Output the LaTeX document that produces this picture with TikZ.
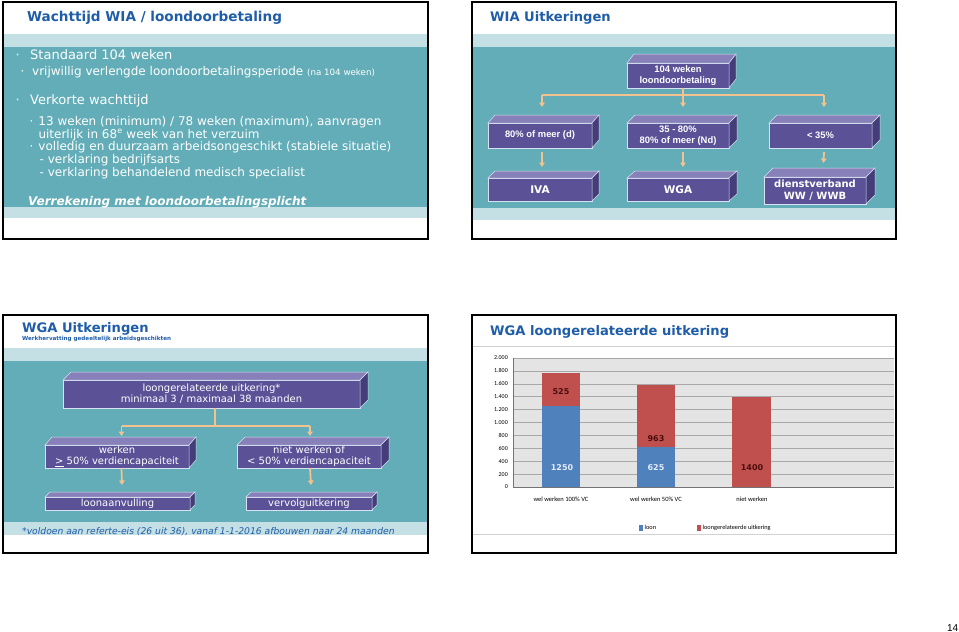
\documentclass[tikz,border=0pt]{standalone}
\usepackage{fontspec}
\setmainfont{DejaVu Sans}
\newfontfamily\arial{Liberation Sans}
\newfontfamily\calib{Carlito}
\usetikzlibrary{arrows.meta}
\definecolor{slteal}{HTML}{62ADB7}
\definecolor{slband}{HTML}{C4E0E5}
\definecolor{sltitle}{HTML}{1F5DA8}
\definecolor{bxfront}{HTML}{5A5197}
\definecolor{bxtop}{HTML}{8780B9}
\definecolor{bxside}{HTML}{453D7A}
\definecolor{bxedge}{HTML}{D6E2F0}
\definecolor{connc}{HTML}{F3C28E}
\definecolor{barblue}{HTML}{4F81BD}
\definecolor{barred}{HTML}{C0504D}
\definecolor{plotbg}{HTML}{E4E4E4}
\definecolor{gridc}{HTML}{A8A8A8}
\definecolor{darklab}{HTML}{4A0E0E}
\definecolor{lightlab}{HTML}{E4ECF6}
\newcommand\fsz[2]{\fontsize{#1}{#2}\selectfont}
% \cub[node options]{name}{x1}{y1}{x2}{y2}{dx}{dy}{text}
\newcommand\cub[9][]{%
  \pgfmathsetmacro\cw{#5-#3}\pgfmathsetmacro\ch{#6-#4}%
  \node[front, minimum width=\cw pt, minimum height=\ch pt, anchor=north west, #1] (#2) at (#3,#4) {#9};
  \filldraw[fill=bxtop, draw=bxedge, line width=0.5pt] (#2.north west) -- ++(#7,-#8) -- ([shift={(#7,-#8)}]#2.north east) -- (#2.north east) -- cycle;
  \filldraw[fill=bxside, draw=bxedge, line width=0.5pt] (#2.north east) -- ++(#7,-#8) -- ([shift={(#7,-#8)}]#2.south east) -- (#2.south east) -- cycle;
}
\begin{document}
\begin{tikzpicture}[x=1pt,y=-1pt,
  frame/.style={draw=black, line width=1.3pt},
  front/.style={draw=bxedge, fill=bxfront, line width=0.5pt, inner sep=0pt, outer sep=0pt, text=white, align=center},
  afont/.style={font=\arial\bfseries\fsz{9.4}{11}},
  bfont/.style={font=\bfseries\fsz{10.5}{12.3}},
  dfont/.style={font=\bfseries\fsz{10}{12.3}},
  lfont/.style={font=\fsz{10}{11}},
  cline/.style={draw=connc, line width=1.8pt},
  carrow/.style={draw=connc, line width=1.8pt, -{Triangle[width=5.5pt,length=4.5pt]}},
  title/.style={anchor=base west, inner sep=0pt, text=sltitle, font=\bfseries\fsz{13.1}{15}},
  body/.style={anchor=base west, inner sep=0pt, text=white},
  ylab/.style={anchor=east, inner sep=0pt, font=\calib\fsz{6}{7}},
  clab/.style={inner sep=0pt, font=\calib\fsz{6.5}{7.5}},
  vlab/.style={inner sep=0pt, font=\bfseries\fsz{8}{9}}
]
\useasboundingbox (0,0) rectangle (959,632);
\fill[white] (0,0) rectangle (959,632);

% ---------- slide 1 ----------
\fill[slband] (3,34) rectangle (428,47);
\fill[slteal] (3,47) rectangle (428,207);
\fill[slband] (3,207) rectangle (428,218);
\draw[frame] (3,2) rectangle (428,239);
\node[title, font=\bfseries\fsz{13.6}{15}] (t1) at (27,21.7) {Wachttijd WIA / loondoorbetaling};
\node[body, font=\fsz{13}{15}] (s1a) at (15.5,59.3) {\makebox[14.5pt][l]{·}Standaard 104 weken};
\node[body, font=\fsz{12}{14}] (s1b) at (20.5,75) {\makebox[11.5pt][l]{·}vrijwillig verlengde loondoorbetalingsperiode {\fsz{8.7}{10}(na 104 weken)}};
\node[body, font=\fsz{13}{15}] (s1c) at (15.5,104) {\makebox[14.5pt][l]{·}Verkorte wachttijd};
\node[body, font=\fsz{12}{14}] (s1d) at (29.5,125.6) {\makebox[8.8pt][l]{·}13 weken (minimum) / 78 weken (maximum), aanvragen};
\node[body, font=\fsz{12}{14}] (s1e) at (38.3,138.3) {uiterlijk in 68\textsuperscript{e} week van het verzuim};
\node[body, font=\fsz{12}{14}] (s1f) at (29.5,150.7) {\makebox[8.8pt][l]{·}volledig en duurzaam arbeidsongeschikt (stabiele situatie)};
\node[body, font=\fsz{12}{14}] (s1g) at (39.5,163) {- verklaring bedrijfsarts};
\node[body, font=\fsz{12}{14}] (s1h) at (39.5,176.7) {- verklaring behandelend medisch specialist};
\node[body, font=\bfseries\itshape\fsz{12}{14}] (s1i) at (28,205) {Verrekening met loondoorbetalingsplicht};

% ---------- slide 2 ----------
\fill[slband] (472,34) rectangle (896,47);
\fill[slteal] (472,47) rectangle (896,208);
\fill[slband] (472,208) rectangle (896,220);
\draw[frame] (472,2) rectangle (896,239);
\node[title] (t2) at (490,21.7) {WIA Uitkeringen};
\cub[afont]{a0}{627}{63}{729}{88}{7}{9}{104 weken\\loondoorbetaling}
\cub[afont]{b1}{488}{123}{592}{148}{7}{8}{80\% of meer (d)}
\cub[afont]{b2}{627}{123}{729}{148}{8}{8}{35 - 80\%\\80\% of meer (Nd)}
\cub[afont]{b3}{769}{123}{872}{148}{8}{8}{< 35\%}
\cub[bfont]{c1}{488}{178}{592}{201}{7}{7}{IVA}
\cub[bfont]{c2}{627}{178}{729}{201}{8}{7}{WGA}
\cub[dfont]{c3}{764}{177}{866}{204}{9}{9}{dienstverband\\WW / WWB}
\coordinate (ja) at ([xshift=5pt,yshift=-7pt]a0.south);
\coordinate (pb1) at ([xshift=2pt,yshift=16pt]b1.north);
\coordinate (pb2) at ([xshift=5pt,yshift=16pt]b2.north);
\coordinate (pb3) at ([xshift=3.5pt,yshift=16pt]b3.north);
\draw[cline] (pb1 |- ja) -- (pb3 |- ja);
\draw[carrow] ([xshift=5pt]a0.south) -- (pb2);
\draw[carrow] (pb1 |- ja) -- (pb1);
\draw[carrow] (pb3 |- ja) -- (pb3);
\draw[carrow] ([xshift=2pt,yshift=-4pt]b1.south) -- ([xshift=2pt,yshift=11pt]c1.north);
\draw[carrow] ([xshift=5pt,yshift=-4pt]b2.south) -- ([xshift=5pt,yshift=11pt]c2.north);
\draw[carrow] ([xshift=3.5pt,yshift=-4pt]b3.south) -- ([xshift=8.5pt,yshift=14pt]c3.north);

% ---------- slide 3 ----------
\fill[slband] (3,348) rectangle (428,361);
\fill[slteal] (3,361) rectangle (428,522);
\fill[slband] (3,522) rectangle (428,535);
\draw[frame] (3,315) rectangle (428,553);
\node[title] (t3) at (22,332.7) {WGA Uitkeringen};
\node[anchor=base west, inner sep=0pt, text=sltitle, font=\bfseries\fsz{5.6}{6}] (t3s) at (22,340.7) {Werkhervatting gedeeltelijk arbeidsgeschikten};
\cub[lfont]{g0}{63}{380}{360}{408}{8}{8}{loongerelateerde uitkering*\\minimaal 3 / maximaal 38 maanden}
\cub[lfont]{w1}{45}{445}{189}{468}{7}{8}{werken\\\underline{>} 50\% verdiencapaciteit}
\cub[lfont]{w2}{237}{445}{381}{468}{8}{8}{niet werken of\\< 50\% verdiencapaciteit}
\cub[lfont]{l1}{45}{497}{190}{510}{5}{5}{loonaanvulling}
\cub[lfont]{l2}{246}{497}{372}{510}{5}{5}{vervolguitkering}
\coordinate (jg) at ([xshift=3.5pt,yshift=-18pt]g0.south);
\coordinate (pw1) at ([xshift=4.5pt,yshift=9pt]w1.north);
\coordinate (pw2) at ([xshift=1pt,yshift=9pt]w2.north);
\draw[cline] ([xshift=3.5pt]g0.south) -- (jg);
\draw[cline] (pw1 |- jg) -- (pw2 |- jg);
\draw[carrow] (pw1 |- jg) -- (pw1);
\draw[carrow] (pw2 |- jg) -- (pw2);
\draw[carrow] ([xshift=4.5pt]w1.south) -- ([xshift=4.5pt,yshift=12pt]l1.north);
\draw[carrow] ([xshift=1pt]w2.south) -- ([xshift=1pt,yshift=12pt]l2.north -| pw2);
\node[anchor=base west, inner sep=0pt, text=sltitle, font=\itshape\fsz{9.2}{11}] (fn) at (22,534) {*voldoen aan referte-eis (26 uit 36), vanaf 1-1-2016 afbouwen naar 24 maanden};

% ---------- slide 4 ----------
\draw[frame] (472,315) rectangle (896,553);
\draw[black!18, line width=0.8pt] (473,346) -- (895,346);
\draw[black!18, line width=0.8pt] (473,534) -- (895,534);
\node[title] (t4) at (490,335.3) {WGA loongerelateerde uitkering};
\fill[plotbg] (513,358) rectangle (894,487);
\foreach \v in {200,400,...,2000} \draw[gridc, line width=0.5pt] (513,{487-\v*0.0645}) -- (894,{487-\v*0.0645});
\draw[black!55, line width=0.6pt] (513,358) -- (513,487) -- (894,487);
\foreach \v/\t in {0/0,200/200,400/400,600/600,800/800,1000/1.000,1200/1.200,1400/1.400,1600/1.600,1800/1.800,2000/2.000}
  \node[ylab] at (508,{487-\v*0.0645}) {\t};
\fill[barblue] (542,487) rectangle (580,{487-1250*0.0645});
\fill[barred] (542,{487-1250*0.0645}) rectangle (580,{487-1775*0.0645});
\fill[barblue] (637,487) rectangle (675,{487-625*0.0645});
\fill[barred] (637,{487-625*0.0645}) rectangle (675,{487-1588*0.0645});
\fill[barred] (732,487) rectangle (771,{487-1400*0.0645});
\node[vlab, text=darklab] at (561,392) {525};
\node[vlab, text=lightlab] at (562,468) {1250};
\node[vlab, text=darklab] at (656,439) {963};
\node[vlab, text=lightlab] at (656,468) {625};
\node[vlab, text=darklab] at (752,468) {1400};
\node[clab] at (561,499) {wel werken 100\% VC};
\node[clab] at (656,499) {wel werken 50\% VC};
\node[clab] at (752,499) {niet werken};
\fill[barblue] (639,524.5) rectangle (643,530.5);
\node[clab, anchor=west, font=\calib\fsz{6.3}{7}] at (644.5,527.5) {loon};
\fill[barred] (697,524.5) rectangle (701,530.5);
\node[clab, anchor=west, font=\calib\fsz{6.3}{7}] at (702.5,527.5) {loongerelateerde uitkering};

\node[anchor=base east, inner sep=0pt, font=\arial\fsz{10}{12}] (pg) at (958.5,631.5) {14};
\end{tikzpicture}
\end{document}
